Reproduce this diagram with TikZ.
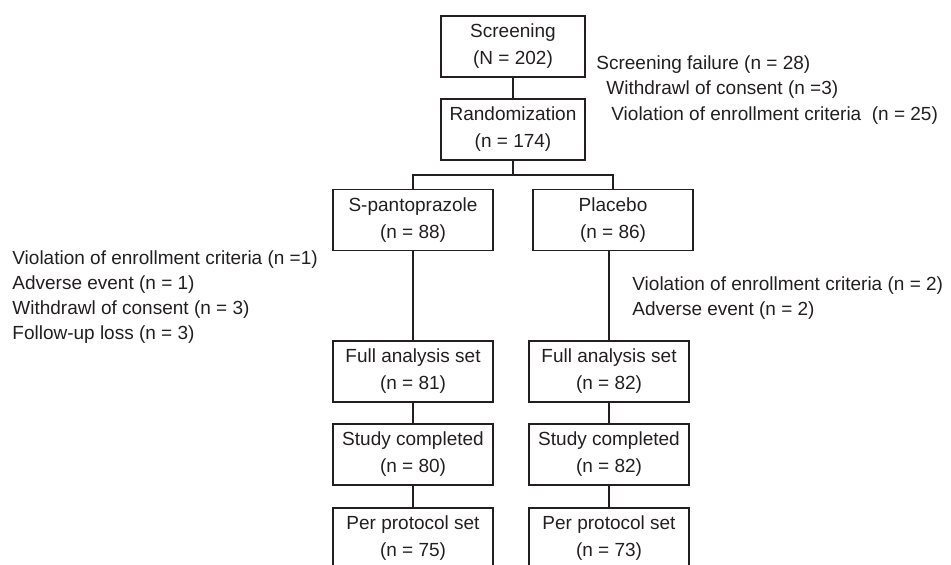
\documentclass[tikz,border=0pt]{standalone}
\usepackage{fontspec}
\setmainfont{Liberation Sans}
\usetikzlibrary{positioning,calc}
\definecolor{inkgray}{HTML}{231F20}
\tikzset{
  stagebox/.style={draw=inkgray, line width=0.6pt, text=inkgray, align=center,
    minimum width=80pt, minimum height=30.5pt, inner sep=0pt,
    font=\fontsize{9.5}{13.5}\selectfont},
  notetext/.style={anchor=west, align=left, inner sep=0pt, text=inkgray,
    font=\fontsize{9.5}{12.5}\selectfont},
  link/.style={draw=inkgray, line width=0.6pt}
}

\begin{document}
\begin{tikzpicture}[x=0.5pt,y=-0.5pt]
\clip (0,0) rectangle (951,564);
% top of the chart
\node (scr) [stagebox, minimum width=72pt] at (513,46.5) {Screening\\(N = 202)};
\node (rnd) [stagebox, minimum width=72pt] at (513,129.5) {Randomization\\(n = 174)};
\coordinate (br) at (513,175);
% the two arms
\node (spz) [stagebox] at (413,220) {S-pantoprazole\\(n = 88)};
\node (plc) [stagebox] at (613,220) {Placebo\\(n = 86)};
\node (fas1) [stagebox] at (413,371.5) {Full analysis set\\(n = 81)};
\node (sc1) [stagebox] at (413,454.5) {Study completed\\(n = 80)};
\node (ppc1) [stagebox] at (413,538.5) {Per protocol set\\(n = 75)};
\node (fas2) [stagebox] at (609,371.5) {Full analysis set\\(n = 82)};
\node (sc2) [stagebox] at (609,454.5) {Study completed\\(n = 82)};
\node (ppc2) [stagebox] at (609,538.5) {Per protocol set\\(n = 73)};
% drop-out notes
\node (sf) [notetext] at (596,64.5) {Screening failure (n = 28)};
\node (sfw) [notetext] at (606,90) {Withdrawl of consent (n =3)};
\node (sfv) [notetext] at (611,115.5) {Violation of enrollment criteria~ (n = 25)};
\node (dropl) [notetext] at (12,297) {Violation of enrollment criteria (n =1)\\Adverse event (n = 1)\\Withdrawl of consent (n = 3)\\Follow-up loss (n = 3)};
\node (dropr) [notetext] at (632,298) {Violation of enrollment criteria (n = 2)\\Adverse event (n = 2)};
\draw[link] (scr)--(rnd);
\draw[link] (rnd)--(br);
\draw[link] (spz.north) |- (br) -| (plc.north);
\draw[link] (spz)--(fas1);
\draw[link] (fas1)--(sc1);
\draw[link] (sc1)--(ppc1);
\draw[link] (fas2.north)--(fas2.north |- plc.south);
\draw[link] (fas2)--(sc2);
\draw[link] (sc2)--(ppc2);
\end{tikzpicture}
\end{document}
